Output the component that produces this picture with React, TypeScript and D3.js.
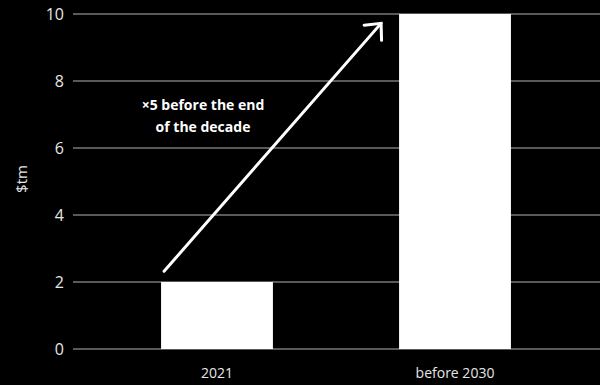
import React from "react";
import * as d3 from "d3";

const categories = ["2021", "before 2030"];
const values = [2, 10];
const yTicks = [0, 2, 4, 6, 8, 10];
const yLabel = "$tm";
const annotationLines = ["×5 before the end", "of the decade"];

const W = 600;
const H = 385;
const FONT = "'Open Sans', 'Noto Sans', sans-serif";

export default function App() {
  const x = d3
    .scaleBand<string>()
    .domain(categories)
    .range([73, 599])
    .paddingInner(0.53)
    .paddingOuter(0.37);
  const y = d3.scaleLinear().domain([0, 10]).range([349, 14]);

  const bw = x.bandwidth();
  const x0 = x(categories[0])!;
  const x1 = x(categories[1])!;
  // arrow from above left of first bar to near top of second bar
  const ax1 = x0 + 3;
  const ay1 = y(2.32);
  const ax2 = x1 - 18;
  const ay2 = y(9.72);
  const ang = Math.atan2(ay2 - ay1, ax2 - ax1);
  const head = 17;
  const spread = Math.PI / 4.2;
  const h1 = [ax2 - head * Math.cos(ang - spread), ay2 - head * Math.sin(ang - spread)];
  const h2 = [ax2 - head * Math.cos(ang + spread), ay2 - head * Math.sin(ang + spread)];

  return (
    <svg
      width={W}
      height={H}
      style={{ position: "absolute", left: 0, top: 0, background: "#000" }}
    >
      <rect x={0} y={0} width={W} height={H} fill="#000" />
      {yTicks.map((t) => (
        <g key={t}>
          <line x1={73} x2={W} y1={y(t)} y2={y(t)} stroke="#b3b3b3" strokeWidth={1} />
          <text
            x={64}
            y={y(t)}
            dy="0.35em"
            textAnchor="end"
            fill="#e6e6e6"
            fontFamily={FONT}
            fontSize={16}
          >
            {t}
          </text>
        </g>
      ))}
      {categories.map((c, i) => (
        <rect
          key={c}
          x={x(c)!}
          y={y(values[i])}
          width={bw}
          height={y(0) - y(values[i])}
          fill="#fff"
        />
      ))}
      {categories.map((c) => (
        <text
          key={c}
          x={x(c)! + bw / 2}
          y={378}
          textAnchor="middle"
          fill="#e6e6e6"
          fontFamily={FONT}
          fontSize={14}
        >
          {c}
        </text>
      ))}
      <text
        transform={`translate(27,179) rotate(-90)`}
        textAnchor="middle"
        fill="#e6e6e6"
        fontFamily={FONT}
        fontSize={15}
      >
        {yLabel}
      </text>
      <line x1={ax1} y1={ay1} x2={ax2} y2={ay2} stroke="#fff" strokeWidth={3} strokeLinecap="round" />
      <polyline
        points={`${h1[0]},${h1[1]} ${ax2},${ay2} ${h2[0]},${h2[1]}`}
        fill="none"
        stroke="#fff"
        strokeWidth={3}
        strokeLinecap="round"
        strokeLinejoin="miter"
      />
      {annotationLines.map((l, i) => (
        <text
          key={i}
          x={203}
          y={110 + i * 22}
          textAnchor="middle"
          fill="#fff"
          fontFamily={FONT}
          fontWeight="bold"
          fontSize={14}
        >
          {l}
        </text>
      ))}
    </svg>
  );
}
